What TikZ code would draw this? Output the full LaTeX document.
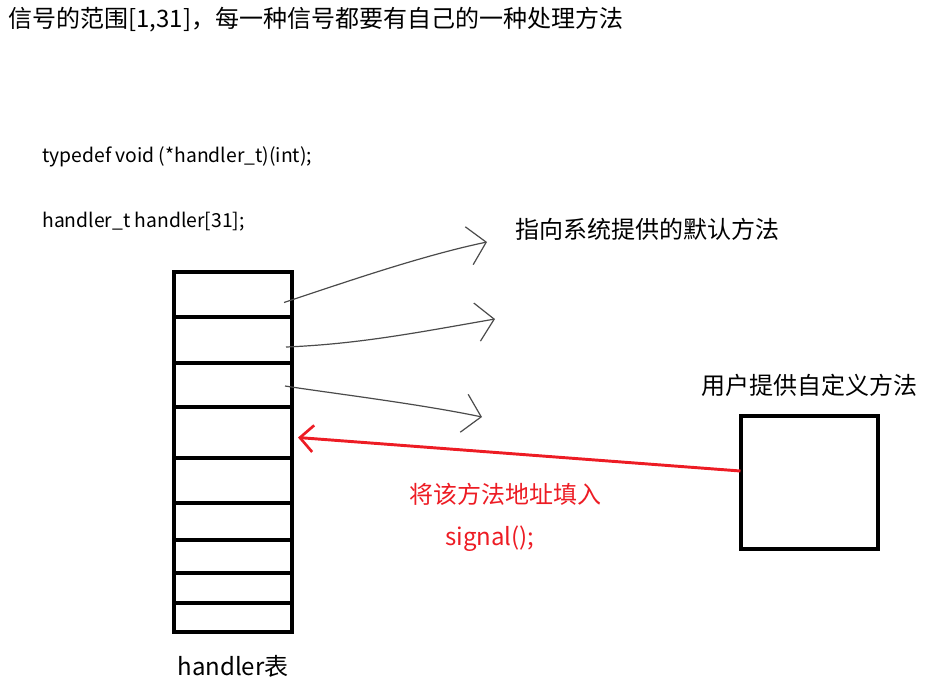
\documentclass[tikz,border=0pt]{standalone}
\usepackage{fontspec}
\setmainfont{Noto Sans CJK SC}
\usepackage{xcolor}
\definecolor{paintred}{RGB}{237,28,36}
\definecolor{pencil}{RGB}{75,75,75}
\usepackage{tikz}
\usetikzlibrary{calc}
\usetikzlibrary{positioning}
\usetikzlibrary{arrows.meta}

\begin{document}
\begin{tikzpicture}[x=0.75pt, y=-0.75pt,
			slot/.style={draw, line width=3pt, minimum width=118*0.75pt,
				inner sep=0pt, outer sep=0pt},
			pen/.style={draw=pencil, line width=0.9pt,
				-{Straight Barb[length=13pt,width=29pt,line width=0.9pt]}},
			redpen/.style={draw=paintred, line width=2.2pt,
				-{Straight Barb[length=10pt,width=20pt,line width=2pt]}},
			label/.style={font=\fontsize{18pt}{20pt}\selectfont, inner sep=0pt},
			code/.style={font=\fontsize{14.5pt}{16pt}\selectfont, inner sep=0pt, anchor=west},
			]
			\useasboundingbox (0,0) rectangle (929,690);
			% heading and declarations
			\node [label, anchor=west] (title) at (8,20) {信号的范围[1,31]，每一种信号都要有自己的一种处理方法};
			\node [code] (tdef) at (42,157) {typedef void (*handler\_t)(int);};
			\node [code] (decl) at (42,222) {handler\_t handler[31];};
			
			% the handler table
			\node [inner sep=0pt, outer sep=0pt, minimum size=0pt] (r0) at (233,272) {};
			\foreach \h [count=\i, remember=\i as \j (initially 0)] in {45,46,44,51,45,37,33,30,29}
				\node [slot, minimum height=\h*0.75pt, anchor=north] (r\i) at (r\j.south) {};
			\node [label, below=17pt of r9] (tname) {handler表};
			
			% default methods
			\node [label, anchor=west] (dflt) at (515,229) {指向系统提供的默认方法};
			\coordinate (d1) at (487,242);
			\coordinate (d2) at (495,319);
			\coordinate (d3) at (482,417);
			\draw [pen] ($(r1.east)+(-8,8)$) .. controls (340,284) and (420,256) .. (d1);
			\draw [pen] ($(r2.east)+(-6,7)$) .. controls (360,344) and (420,332) .. (d2);
			\draw [pen] ($(r3.east)+(-7,1)$) .. controls (330,393) and (420,404) .. (d3);
			
			% user method
			\node [draw, line width=3pt, minimum width=137*0.75pt, minimum height=133*0.75pt,
				inner sep=0pt, outer sep=0pt] (usr) at (809,482) {};
			\node [label, above=14pt of usr] (ulbl) {用户提供自定义方法};
			\draw [redpen] ($(usr.west)+(0,-11)$) -- ($(r4.east)+(6,5)$);
			\node [label, text=paintred] (fill) at (505,494) {将该方法地址填入};
			\node [label, text=paintred] (sig) at (490,539) {signal();};
			
		\end{tikzpicture}
\end{document}
